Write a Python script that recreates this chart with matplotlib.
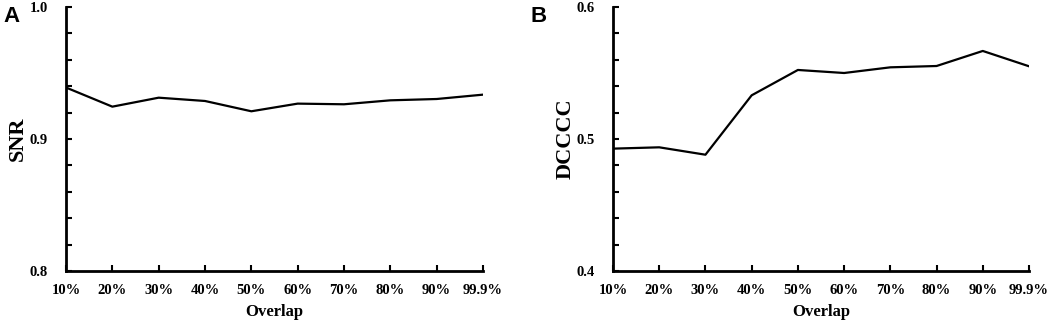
import numpy as np
import matplotlib
matplotlib.use("Agg")
import matplotlib.pyplot as plt
from matplotlib.ticker import MultipleLocator

# data
overlap = ["10%", "20%", "30%", "40%", "50%", "60%", "70%", "80%", "90%", "99.9%"]
snr = [0.939, 0.9245, 0.9313, 0.9288, 0.921, 0.9268, 0.9263, 0.9293, 0.9303, 0.9336]
dcccc = [0.4927, 0.4937, 0.4881, 0.5331, 0.5523, 0.5500, 0.5543, 0.5553, 0.5667, 0.5551]

plt.rcParams['font.family'] = ['Liberation Serif', 'DejaVu Serif']
plt.rcParams['font.weight'] = 'bold'

fig = plt.figure(figsize=(10.52, 3.2), dpi=100)
ax_a = fig.add_axes([66 / 1052, 1 - 271 / 320, (483 - 66) / 1052, 264 / 320])
ax_b = fig.add_axes([613 / 1052, 1 - 271 / 320, (1029 - 613) / 1052, 264 / 320])

x = np.arange(len(overlap))


def style_axis(ax, values, ylabel, ylim):
    ax.plot(x, values, color='black', lw=1.6)
    ax.set_xlim(0, len(overlap) - 1)
    ax.set_ylim(*ylim)
    ax.set_xticks(x)
    ax.set_xticklabels(overlap, fontsize=10.5, fontweight='bold')
    ax.yaxis.set_major_locator(MultipleLocator(0.1))
    ax.yaxis.set_minor_locator(MultipleLocator(0.02))
    ax.set_yticks(ax.get_yticks())
    ax.set_ylim(*ylim)
    ax.set_yticklabels([f"{v:.1f}" for v in ax.get_yticks()], fontsize=10.5, fontweight='bold')
    ax.tick_params(axis='both', which='both', direction='in', length=4, width=1.5)
    ax.tick_params(axis='y', which='major', pad=13)
    ax.tick_params(axis='x', which='major', pad=9.5)
    for side in ['top', 'right']:
        ax.spines[side].set_visible(False)
    for side in ['left', 'bottom']:
        ax.spines[side].set_linewidth(2)
    ax.set_xlabel("Overlap", fontsize=12, fontweight='bold', labelpad=5)
    ax.set_ylabel(ylabel, fontsize=16, fontweight='bold', labelpad=1)


style_axis(ax_a, snr, "SNR", (0.8, 1.0))
style_axis(ax_b, dcccc, "DCCCC", (0.4, 0.6))

fig.text(3 / 1052, 1 - 17 / 320, "A", fontsize=16, fontweight='bold',
         family='Liberation Sans', va='center', ha='left')
fig.text(531 / 1052, 1 - 17 / 320, "B", fontsize=16, fontweight='bold',
         family='Liberation Sans', va='center', ha='left')

fig.savefig("out.png", dpi=100)
